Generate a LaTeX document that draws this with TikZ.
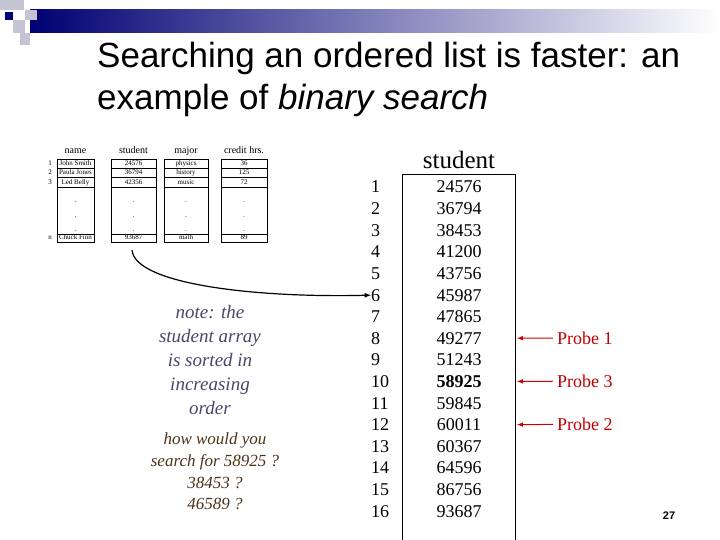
\documentclass[tikz,border=0pt]{standalone}
\usepackage{fontspec}
\setmainfont{Liberation Serif}
\newfontfamily\arialf{Liberation Sans}
\begin{document}
\begin{tikzpicture}[x=1pt,y=-1pt,
  tiny/.style={font=\fontsize{7}{8}\selectfont,inner sep=0pt,anchor=base},
  hdr/.style={font=\fontsize{10}{11}\selectfont,inner sep=0pt,anchor=base},
  num/.style={font=\fontsize{18}{20}\selectfont,inner sep=0pt,anchor=base},
  probe/.style={font=\fontsize{18}{20}\selectfont,text=red!75!black,inner sep=0pt,anchor=base west},
  parr/.style={red!80!black,line width=1pt,-latex},
  note/.style={font=\fontsize{19}{21}\selectfont\itshape,inner sep=0pt,anchor=base}]
\useasboundingbox (0,0) rectangle (720,540);
% header decoration
\shade[left color=blue!45!black, right color=white] (30,10) rectangle (720,33);
\fill[blue!15!gray!40] (0,0) rectangle (12,10);
\fill[blue!15!gray!40] (12,0) rectangle (24,10);
\fill[blue!50!black] (5,12) rectangle (13,20);
\fill[blue!15!gray!40] (13,20) rectangle (25,33);
\fill[blue!15!gray!40] (25,10) rectangle (37,20);
\fill[blue!15!gray!40] (20,33) rectangle (30,45);
% title
\node[anchor=base west,inner sep=0pt,font=\arialf\fontsize{35}{40}\selectfont] (t1) at (97,68) {Searching an ordered list is faster: an};
\node[anchor=base west,inner sep=0pt,font=\arialf\fontsize{35}{40}\selectfont] (t2) at (97,110) {example of \textit{binary search}};
% small table
\foreach \nm/\xa/\xb/\lab in {n/57/94/name,s/111/156/student,m/164/208/major,c/221/267/credit hrs.}{
  \draw[line width=0.6pt] (\xa,159) rectangle (\xb,242);
  \foreach \yy in {168,177,187,234} \draw[line width=0.6pt] (\xa,\yy) -- (\xb,\yy);
  \node[hdr] (h\nm) at ({(\xa+\xb)/2},154) {\lab};
  \foreach \yy in {203,218,232} \node[tiny] at ({(\xa+\xb)/2},\yy) {.};
}
\foreach \i/\yy in {1/166,2/175,3/185,n/240} \node[tiny] at (50,\yy) {\i};
\foreach \a/\b/\c/\d/\yy in {John Smith/24576/physics/36/166,Paula Jones/36794/history/125/175,Led Belly/42356/music/72/185,Chuck Finn/93687/math/89/240}{
  \node[tiny] at (75.5,\yy) {\a};
  \node[tiny] at (133.5,\yy) {\b};
  \node[tiny] at (186,\yy) {\c};
  \node[tiny] at (244,\yy) {\d};
}
\coordinate (cs) at (132,250);
% big column
\node[num,font=\fontsize{25}{28}\selectfont] (sh) at (459,169) {student};
\draw[line width=0.8pt] (402,174) -- (402,545) (515,545) -- (515,174) -- (402,174);
\foreach \i/\v in {1/24576,2/36794,3/38453,4/41200,5/43756,6/45987,7/47865,8/49277,9/51243,10/\textbf{58925},11/59845,12/60011,13/60367,14/64596,15/86756,16/93687}{
  \node[num,anchor=base west] (i\i) at (371,{193+(\i-1)*21.6}) {\i};
  \node[num] (v\i) at (459,{193+(\i-1)*21.6}) {\v};
}
\draw[line width=1.2pt,-latex] (cs) .. controls (135,285) and (260,298) .. (i6.west);
% probes
\node[probe] (p1) at (557,{193+7*21.6}) {Probe 1};
\node[probe] (p3) at (557,{193+9*21.6}) {Probe 3};
\node[probe] (p2) at (557,{193+11*21.6}) {Probe 2};
\foreach \p/\r in {p1/8,p3/10,p2/12} \draw[parr] (\p.west) ++(-4,0) -- (517,{187+(\r-1)*21.6});
% notes
\begin{scope}[every node/.style={note,text=gray!80!blue!70!black}]
\node (n1) at (210,318) {note: the};
\node (n2) at (210,342) {student array};
\node (n3) at (210,366) {is sorted in};
\node (n4) at (210,390) {increasing};
\node (n5) at (210,414) {order};
\end{scope}
\begin{scope}[every node/.style={note,font=\fontsize{17}{19}\selectfont\itshape,text=black!60!brown}]
\node (q1) at (215,444) {how would you};
\node (q2) at (215,466) {search for 58925 ?};
\node (q3) at (215,488) {38453 ?};
\node (q4) at (215,509) {46589 ?};
\end{scope}
\node[font=\arialf\bfseries\fontsize{11}{12}\selectfont,inner sep=0pt] (pg) at (669,516) {27};
\end{tikzpicture}
\end{document}
